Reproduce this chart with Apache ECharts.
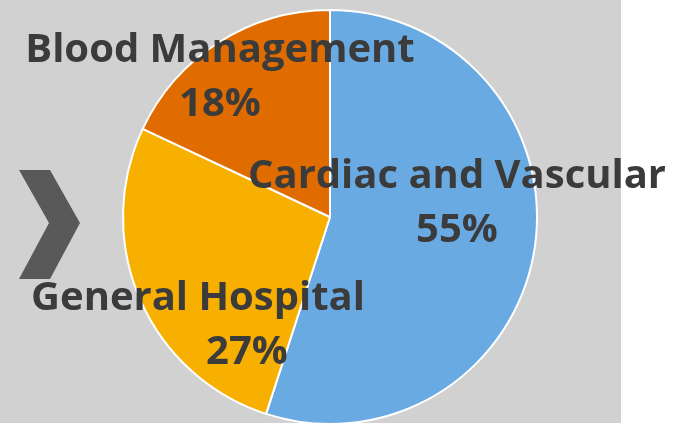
<!DOCTYPE html>
<html>
<head>
<meta charset="utf-8">
<script src="https://cdn.jsdelivr.net/npm/echarts@6/dist/echarts.min.js"></script>
<style>
  html, body { margin: 0; padding: 0; background: #ffffff; }
  #chart { width: 684px; height: 423px; }
</style>
</head>
<body>
<div id="chart"></div>
<script>
const categories = ['Cardiac and Vascular', 'General Hospital', 'Blood Management'];
const values = [55, 27, 18];
const colors = ['#6aaae3', '#f8b000', '#e06c00'];

// where each label block sits (centre of the two lines)
const labelSpots = [[457, 204], [198, 326], [220, 78]];

const chart = echarts.init(document.getElementById('chart'));

const font = '"Open Sans", sans-serif';
const txt = { fontFamily: font, fontWeight: 'bold', fontSize: 40, color: '#3b3b3b', lineHeight: 54 };

chart.setOption({
  animation: false,
  backgroundColor: '#ffffff',
  graphic: [
    {
      type: 'rect', z: -10,
      shape: { x: 0, y: 0, width: 621, height: 423 },
      style: { fill: '#d1d1d1' }
    },
    {
      type: 'polygon', z: -5,
      shape: { points: [[19, 170], [50, 170], [80, 223], [50, 279], [19, 279], [49, 223]] },
      style: { fill: '#595959' }
    }
  ],
  series: [
    {
      type: 'pie',
      center: [330, 217],
      radius: 207,
      startAngle: 90,
      clockwise: true,
      itemStyle: { borderColor: '#ffffff', borderWidth: 2 },
      labelLine: { show: false },
      label: {
        show: true,
        position: 'inside',
        formatter: p => '{n|' + p.name + '}\n{p|' + p.percent + '%}',
        rich: { n: txt, p: txt }
      },
      labelLayout: params => ({
        x: labelSpots[params.dataIndex][0],
        y: labelSpots[params.dataIndex][1],
        align: 'center',
        verticalAlign: 'middle'
      }),
      data: categories.map((name, i) => ({
        name: name,
        value: values[i],
        itemStyle: { color: colors[i] },
        label: i === 1 ? {
          rich: { n: txt, p: Object.assign({}, txt, { padding: [0, 0, 0, 98] }) }
        } : undefined
      }))
    }
  ]
});
</script>
</body>
</html>
